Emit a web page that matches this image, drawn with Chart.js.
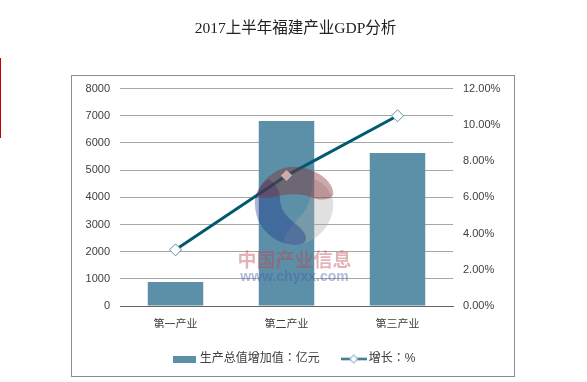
<!DOCTYPE html>
<html>
<head>
<meta charset="utf-8">
<style>
  html, body { margin: 0; padding: 0; background: #fff; }
  canvas { display: block; }
</style>
<script src="https://cdn.jsdelivr.net/npm/chart.js@4"></script>
</head>
<body>
<canvas id="chart" width="587" height="382"></canvas>
<script>
'use strict';

var categories = ['第一产业', '第二产业', '第三产业'];
var outputValues = [880, 6810, 5630];
var growthValues = [3.1, 7.2, 10.5];
var seriesNames = ['生产总值增加值：亿元', '增长：%'];
var titleText = '2017上半年福建产业GDP分析';
var watermarkName = '中国产业信息';
var watermarkUrl = 'www.chyxx.com';

var barColor = '#5c90a8';
var lineColor = '#005a70';
var labelColor = '#404040';
var fontSans = '"Liberation Sans", "Noto Sans CJK JP", sans-serif';

// Legend swatches are small canvases, Chart.js has no line + marker legend style.
function barSwatch() {
  var c = document.createElement('canvas');
  c.width = 23;
  c.height = 7;
  var g = c.getContext('2d');
  g.fillStyle = barColor;
  g.fillRect(0, 0, 23, 7);
  return c;
}

function lineSwatch() {
  var c = document.createElement('canvas');
  c.width = 26;
  c.height = 11;
  var g = c.getContext('2d');
  g.strokeStyle = lineColor;
  g.lineWidth = 2;
  g.beginPath();
  g.moveTo(0, 5.5);
  g.lineTo(26, 5.5);
  g.stroke();
  g.fillStyle = '#fff';
  g.strokeStyle = '#5c90a8';
  g.lineWidth = 1;
  g.beginPath();
  g.moveTo(13, 1.5);
  g.lineTo(17, 5.5);
  g.lineTo(13, 9.5);
  g.lineTo(9, 5.5);
  g.closePath();
  g.fill();
  g.stroke();
  return c;
}

var swatches = [barSwatch(), lineSwatch()];

// Frame round the chart and the red mark on the page edge.
var framePlugin = {
  id: 'frame',
  beforeDraw: function (chart) {
    var ctx = chart.ctx;
    ctx.save();
    ctx.fillStyle = '#c00000';
    ctx.fillRect(0, 58, 1, 80);
    ctx.strokeStyle = '#8c8c8c';
    ctx.lineWidth = 1;
    ctx.strokeRect(71.5, 75.5, 443, 301);
    ctx.restore();
  }
};

// Logo shapes, given in a 135 x 130 box placed over the middle of the plot.
function logoPath(ctx, pts) {
  ctx.beginPath();
  ctx.moveTo(pts[0][0], pts[0][1]);
  for (var i = 1; i < pts.length; i++) {
    var p = pts[i];
    ctx.bezierCurveTo(p[0], p[1], p[2], p[3], p[4], p[5]);
  }
  ctx.closePath();
  ctx.fill();
}

var watermarkPlugin = {
  id: 'watermark',
  afterDraw: function (chart) {
    var ctx = chart.ctx;
    ctx.save();
    ctx.translate(225, 155);
    ctx.scale(1 / 3, 1 / 3);

    ctx.fillStyle = 'rgba(170,170,170,0.36)';
    logoPath(ctx, [[265, 70], [310, 90, 327, 125, 325, 150], [322, 215, 270, 270, 205, 270],
      [185, 270, 170, 265, 178, 250], [185, 230, 205, 210, 220, 190], [255, 160, 262, 110, 265, 70]]);

    ctx.fillStyle = 'rgba(15,40,136,0.35)';
    logoPath(ctx, [[130, 72], [95, 95, 88, 125, 90, 150], [92, 215, 140, 262, 205, 270],
      [232, 272, 250, 262, 240, 238], [225, 205, 165, 190, 165, 130], [165, 105, 150, 85, 130, 72]]);

    ctx.fillStyle = 'rgba(135,40,40,0.4)';
    logoPath(ctx, [[95, 122], [110, 70, 160, 35, 205, 35], [265, 35, 325, 75, 325, 115],
      [325, 135, 290, 138, 262, 128], [220, 112, 180, 118, 150, 125], [130, 130, 110, 130, 95, 122]]);

    ctx.textAlign = 'center';
    ctx.textBaseline = 'middle';
    ctx.scale(3, 3);
    ctx.translate(-225, -155);
    ctx.font = 'bold 19px "Noto Sans CJK SC", sans-serif';
    ctx.fillStyle = 'rgba(190,70,80,0.42)';
    ctx.fillText(watermarkName, 294.5, 260);
    ctx.font = 'bold 14px "Liberation Sans", sans-serif';
    ctx.fillStyle = 'rgba(70,90,170,0.42)';
    ctx.fillText(watermarkUrl, 294.5, 277);
    ctx.restore();
  }
};

var chart = new Chart(document.getElementById('chart'), {
  type: 'bar',
  data: {
    labels: categories,
    datasets: [
      {
        label: seriesNames[0],
        data: outputValues,
        backgroundColor: barColor,
        barPercentage: 0.5,
        categoryPercentage: 1,
        yAxisID: 'y',
        order: 2
      },
      {
        type: 'line',
        label: seriesNames[1],
        data: growthValues,
        borderColor: lineColor,
        borderWidth: 3,
        tension: 0,
        pointStyle: 'rectRot',
        pointRadius: 6,
        pointBackgroundColor: '#fff',
        pointBorderColor: '#5c90a8',
        pointBorderWidth: 1,
        yAxisID: 'y1',
        order: 1
      }
    ]
  },
  options: {
    responsive: false,
    animation: false,
    layout: { padding: { left: 4, right: 0, top: 0, bottom: 7 } },
    scales: {
      x: {
        grid: { display: false, drawTicks: false },
        border: { color: '#666666', z: 1 },
        ticks: {
          color: labelColor,
          padding: 12,
          font: { family: fontSans, size: 11 }
        },
        afterFit: function (scale) { scale.height = 22; }
      },
      y: {
        position: 'left',
        min: 0,
        max: 8000,
        grid: { color: '#a6a6a6', drawTicks: false },
        border: { display: false },
        ticks: {
          stepSize: 1000,
          color: labelColor,
          padding: 10,
          font: { family: fontSans, size: 11 },
          callback: function (value) { return String(value); }
        },
        afterFit: function (scale) { scale.width = 116; }
      },
      y1: {
        position: 'right',
        min: 0,
        max: 12,
        grid: { display: false, drawTicks: false },
        border: { display: false },
        ticks: {
          stepSize: 2,
          color: labelColor,
          padding: 10,
          font: { family: fontSans, size: 11 },
          callback: function (value) { return value.toFixed(2) + '%'; }
        },
        afterFit: function (scale) { scale.width = 134; }
      }
    },
    plugins: {
      tooltip: { enabled: false },
      title: {
        display: true,
        text: titleText,
        color: '#222222',
        font: { family: '"Liberation Serif", "Noto Sans CJK SC", serif', size: 15.5, weight: 'normal' },
        padding: { top: 20, bottom: 50 }
      },
      legend: {
        position: 'bottom',
        labels: {
          color: labelColor,
          font: { family: fontSans, size: 12 },
          usePointStyle: true,
          pointStyleWidth: 18,
          padding: 25,
          sort: function (a, b) { return a.datasetIndex - b.datasetIndex; },
          generateLabels: function (c) {
            var items = Chart.defaults.plugins.legend.labels.generateLabels(c);
            items.forEach(function (item) { item.pointStyle = swatches[item.datasetIndex]; });
            return items;
          }
        }
      }
    }
  },
  plugins: [framePlugin, watermarkPlugin]
});
</script>
</body>
</html>
